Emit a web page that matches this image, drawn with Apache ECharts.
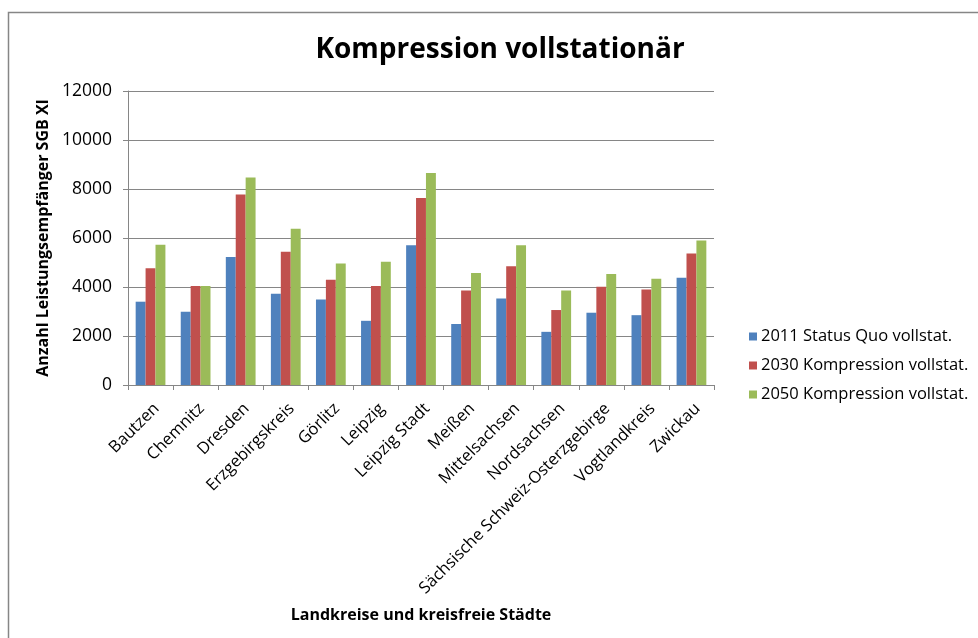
<!DOCTYPE html>
<html>
<head>
<meta charset="utf-8">
<script src="https://cdn.jsdelivr.net/npm/echarts@6/dist/echarts.min.js"></script>
<style>
html,body{margin:0;padding:0;background:#fff;}
#chart{width:978px;height:638px;}
</style>
</head>
<body>
<div id="chart"></div>
<script>
const categories = ["Bautzen","Chemnitz","Dresden","Erzgebirgskreis","Görlitz","Leipzig","Leipzig Stadt","Meißen","Mittelsachsen","Nordsachsen","Sächsische Schweiz-Osterzgebirge","Vogtlandkreis","Zwickau"];
const seriesNames = ["2011 Status Quo vollstat.","2030 Kompression vollstat.","2050 Kompression vollstat."];
const status2011 = [3400, 2990, 5220, 3720, 3490, 2620, 5700, 2490, 3530, 2170, 2950, 2850, 4380];
const kompression2030 = [4770, 4040, 7780, 5440, 4300, 4040, 7630, 3860, 4850, 3060, 4010, 3900, 5370];
const kompression2050 = [5720, 4040, 8470, 6380, 4960, 5030, 8650, 4570, 5700, 3860, 4530, 4340, 5900];
const yTicks = [0, 2000, 4000, 6000, 8000, 10000, 12000];

const colors = ["#4F81BD","#C0504D","#9BBB59"];
const font = "'Open Sans', sans-serif";
const chart = echarts.init(document.getElementById('chart'), null, {renderer:'canvas'});
const values = [status2011, kompression2030, kompression2050];
chart.setOption({
  animation:false,
  color: colors,
  title:{
    text:"Kompression vollstationär",
    left:495, top:31, textAlign:'center',
    textStyle:{fontFamily:font, fontSize:28, fontWeight:'bold', color:'#000'}
  },
  legend:{
    orient:'vertical', left:744, top:323,
    itemWidth:8, itemHeight:8, itemGap:12,
    icon:'rect',
    textStyle:{fontFamily:font, fontSize:16.5, lineHeight:17, color:'#000', padding:[0,0,0,-1]},
    data: seriesNames
  },
  grid:{left:128, right:264, top:91, bottom:253, containLabel:false},
  xAxis:{
    type:'category', data:categories,
    name:"Landkreise und kreisfreie Städte",
    nameLocation:'middle', nameGap:222,
    nameTextStyle:{fontFamily:font, fontSize:16, fontWeight:'bold', color:'#000'},
    axisLine:{lineStyle:{color:'#868686', width:1}},
    axisTick:{show:true, length:5, alignWithLabel:false, lineStyle:{color:'#868686'}},
    axisLabel:{rotate:45, interval:0, fontFamily:font, fontSize:16.5, color:'#000', margin:15, verticalAlign:'top'}
  },
  yAxis:{
    type:'value', min:yTicks[0], max:yTicks[yTicks.length-1], interval:2000,
    name:"Anzahl Leistungsempfänger SGB XI",
    nameLocation:'middle', nameGap:70, nameRotate:90,
    nameTextStyle:{fontFamily:font, fontSize:16, fontWeight:'bold', color:'#000'},
    axisLine:{show:true, lineStyle:{color:'#868686', width:1}},
    axisTick:{show:true, length:5, inside:false, lineStyle:{color:'#868686'}},
    axisLabel:{fontFamily:font, fontSize:17.5, color:'#000', margin:16, formatter:(v)=>String(v)},
    splitLine:{lineStyle:{color:'#868686', width:1}}
  },
  series: seriesNames.map((n,i)=>({
    name:n, type:'bar', data:values[i],
    barGap:'0%', barCategoryGap:'34%',
    itemStyle:{color:colors[i]}
  })),
  graphic:[{
    type:'rect', shape:{x:8.5, y:12.5, width:1000, height:700},
    style:{fill:null, stroke:'#868686', lineWidth:1.5}, silent:true, z:-1
  }]
});
</script>
</body>
</html>
